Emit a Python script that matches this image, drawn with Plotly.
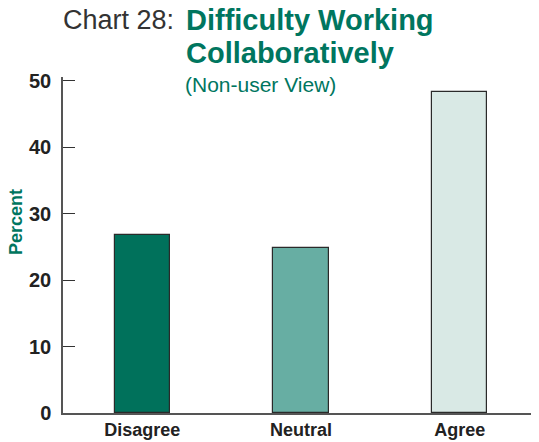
import plotly.graph_objects as go

categories = ["Disagree", "Neutral", "Agree"]
values = [26.8, 24.9, 48.3]
colors = ["#00715b", "#67aea3", "#d9e9e5"]
y_ticks = [0, 10, 20, 30, 40, 50]

OFF = 8  # page body margin
W, H = 539 - OFF, 442 - OFF
L, R, T, B = 63 - OFF, 0, 77 - OFF, 29
pw, ph = W - L - R, H - T - B

def px(x):
    return (x - OFF - L) / pw

def py(y):
    return (H - B - (y - OFF)) / ph

green = "#00765f"
font = "Liberation Sans, Arial, sans-serif"

fig = go.Figure(go.Bar(
    x=categories, y=values, width=0.35,
    marker=dict(color=colors, line=dict(color="#2a2a2a", width=1.2)),
))

fig.update_layout(
    width=W, height=H,
    margin=dict(l=L, r=R, t=T, b=B),
    plot_bgcolor="white", paper_bgcolor="white",
    showlegend=False,
    font=dict(family=font),
    bargap=0,
)
fig.update_xaxes(
    range=[-0.5, 2.5], showgrid=False, showline=True, linecolor="#555", linewidth=1.5,
    ticks="", automargin=False,
    tickfont=dict(size=18, color="#222", family=font, weight="bold"),
)
fig.update_yaxes(
    range=[0, 50.6], tickvals=y_ticks, showgrid=False, zeroline=False,
    showline=True, linecolor="#555", linewidth=1.5, automargin=False,
    ticks="inside", ticklen=12, tickcolor="#333", tickwidth=1,
    ticklabelstandoff=6,
    tickfont=dict(size=20, color="#222", family=font, weight="bold"),
)

ann = [
    dict(text="Chart 28:", x=px(176), y=py(19.5), xanchor="right", yanchor="middle",
         font=dict(size=27, color="#333", family=font)),
    dict(text="<b>Difficulty Working</b>", x=px(184), y=py(19.5), xanchor="left", yanchor="middle",
         font=dict(size=29, color=green, family=font)),
    dict(text="<b>Collaboratively</b>", x=px(184), y=py(53), xanchor="left", yanchor="middle",
         font=dict(size=29, color=green, family=font)),
    dict(text="(Non-user View)", x=px(183), y=py(84), xanchor="left", yanchor="middle",
         font=dict(size=21, color=green, family=font)),
    dict(text="<b>Percent</b>", x=px(16), y=py(222), xanchor="center", yanchor="middle",
         textangle=-90, font=dict(size=18, color=green, family=font)),
]
for a in ann:
    a.update(xref="paper", yref="paper", showarrow=False)
fig.update_layout(annotations=ann)

fig.write_html("out.html")
